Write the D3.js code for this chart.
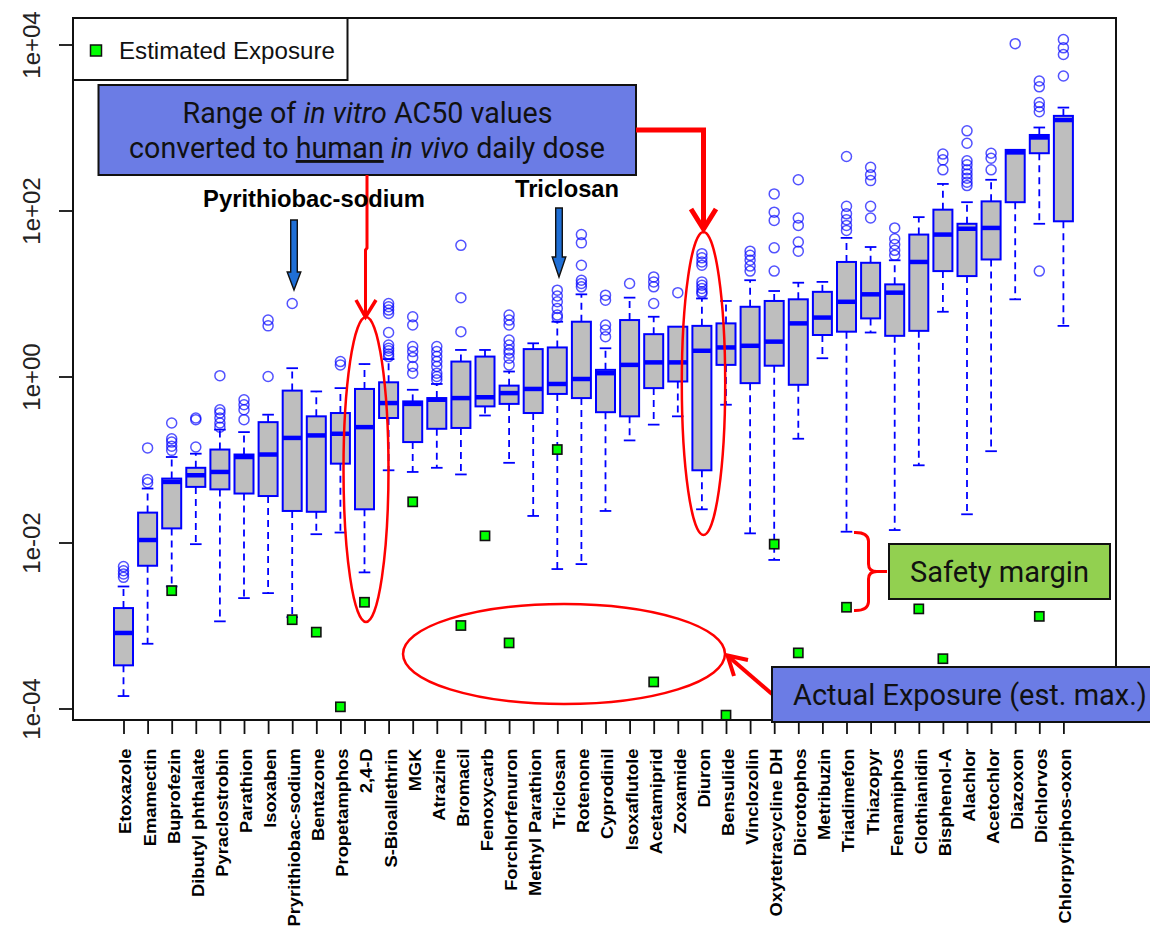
<!DOCTYPE html>
<html><head><meta charset="utf-8">
<script src="https://cdn.jsdelivr.net/npm/d3@7"></script>
<style>body{margin:0;background:#fff} svg{display:block}</style>
</head><body>
<svg id="chart" width="1150" height="933"></svg>
<script>
// ---------- DATA (log10 of human in vivo daily dose) ----------
const categories = ["Etoxazole","Emamectin","Buprofezin","Dibutyl phthalate","Pyraclostrobin","Parathion","Isoxaben","Pryrithiobac-sodium","Bentazone","Propetamphos","2,4-D","S-Bioallethrin","MGK","Atrazine","Bromacil","Fenoxycarb","Forchlorfenuron","Methyl Parathion","Triclosan","Rotenone","Cyprodinil","Isoxaflutole","Acetamiprid","Zoxamide","Diuron","Bensulide","Vinclozolin","Oxytetracycline DH","Dicrotophos","Metribuzin","Triadimefon","Thiazopyr","Fenamiphos","Clothianidin","Bisphenol-A","Alachlor","Acetochlor","Diazoxon","Dichlorvos","Chlorpyriphos-oxon"];
const whiskerLowLog = [-3.85,-3.22,-2.53,-2.02,-2.95,-2.67,-2.61,-2.90,-1.90,-1.88,-2.36,-1.13,-1.15,-1.10,-1.18,-0.47,-1.04,-1.68,-2.32,-2.26,-1.62,-0.77,-0.58,-0.48,-1.60,-0.34,-1.89,-2.21,-0.75,0.22,-1.87,0.53,-1.85,-1.07,0.78,-1.66,-0.90,0.93,1.84,0.61];
const q1Log = [-3.48,-2.28,-1.83,-1.33,-1.36,-1.41,-1.44,-1.62,-1.63,-1.05,-1.60,-0.50,-0.79,-0.63,-0.62,-0.36,-0.33,-0.44,-0.21,-0.26,-0.43,-0.48,-0.14,-0.06,-1.13,0.14,-0.08,0.13,-0.10,0.50,0.54,0.70,0.49,0.55,1.27,1.21,1.41,2.10,2.69,1.87];
const medianLog = [-3.09,-1.97,-1.27,-1.19,-1.15,-0.97,-0.94,-0.74,-0.71,-0.69,-0.61,-0.32,-0.33,-0.28,-0.26,-0.25,-0.20,-0.15,-0.09,-0.03,0.04,0.14,0.17,0.17,0.31,0.35,0.37,0.42,0.64,0.71,0.90,0.99,1.01,1.38,1.71,1.78,1.79,2.70,2.88,3.09];
const q3Log = [-2.79,-1.64,-1.23,-1.10,-0.88,-0.94,-0.55,-0.17,-0.48,-0.44,-0.15,-0.07,-0.30,-0.26,0.18,0.24,-0.11,0.33,0.35,0.66,0.08,0.68,0.51,0.60,0.61,0.64,0.84,0.91,0.93,1.02,1.38,1.37,1.11,1.71,2.01,1.84,2.11,2.73,2.91,3.14];
const whiskerHighLog = [-2.53,-1.35,-0.97,-0.93,-0.64,-0.67,-0.46,0.10,-0.18,-0.14,0.15,0.21,-0.16,-0.09,0.32,0.32,0.06,0.40,0.66,0.99,0.34,0.95,0.72,0.60,0.94,0.91,1.16,1.03,1.13,1.14,1.67,1.56,1.40,1.92,2.32,2.10,2.37,2.73,3.00,3.24];
const outliersLog = [
  [-2.29,-2.34,-2.38,-2.42],
  [-0.86,-1.24,-1.28],
  [-0.56,-0.75,-0.79,-0.84,-0.89],
  [-0.50,-0.52,-0.85],
  [0.01,-0.40,-0.44,-0.50,-0.56,-0.61],
  [-0.28,-0.34,-0.40,-0.52],
  [0.00,0.68,0.61],
  [0.88],
  [],
  [0.18,0.14],
  [],
  [0.88,0.84,0.80,0.76,0.53,0.38,0.34,0.31,0.27,0.24],
  [0.72,0.62,0.36,0.30,0.23,0.12,0.04],
  [0.36,0.30,0.24,0.18,0.12,0.04,0.00,-0.04],
  [1.58,0.95,0.54],
  [],
  [0.74,0.68,0.62,0.44,0.38,0.32,0.28,0.22,0.14],
  [],
  [1.04,0.97,0.90,0.82,0.74,0.71],
  [1.71,1.61,1.34,1.16,1.12,1.08],
  [0.98,0.92,0.62,0.56,0.48],
  [1.12],
  [1.20,1.14,1.08,0.88],
  [1.01],
  [1.48,1.43,1.38,1.34,1.14,1.10,1.06,1.02,1.00],
  [],
  [1.51,1.46,1.40,1.33,1.27],
  [2.20,1.98,1.88,1.55,1.27],
  [2.37,1.91,1.82,1.62,1.51],
  [],
  [2.65,2.05,1.96,1.89,1.82,1.76],
  [2.52,2.43,2.36,2.05,1.91],
  [1.79,1.66,1.59,1.52,1.46],
  [],
  [2.68,2.61,2.49],
  [2.96,2.81,2.60,2.55,2.49,2.44,2.39,2.34,2.30],
  [2.69,2.63,2.49],
  [4.01],
  [3.56,3.49,3.30,3.25,3.19,1.27],
  [4.06,3.96,3.88,3.62]
];
const exposureLog = [null,null,-2.58,null,null,null,null,-2.93,-3.08,-3.98,-2.72,null,-1.51,null,-3.00,-1.92,-3.21,null,-0.88,null,null,null,-3.68,null,null,-4.08,null,-2.02,-3.33,null,-2.78,null,null,-2.80,-3.40,null,null,null,-2.89,null];
const yTickValues = [1e-4,1e-2,1,1e2,1e4];

// ---------- SETUP ----------
const svg = d3.select("#chart");
const frame = {left:73, top:18, right:1116, bottom:720};
const x = d3.scalePoint().domain(categories).range([123.5, 1063.4]);
const y = d3.scaleLog().domain([1e-4, 1e4]).range([708.5, 44.5]);
const p10 = l => Math.pow(10, l);
const BLUE = "#0000ff";
const fmtR = d => { const e = Math.round(Math.log10(d)); return "1e" + (e < 0 ? "-" : "+") + String(Math.abs(e)).padStart(2, "0"); };

function fit(sel, targetW){
  const w = sel.node().getComputedTextLength();
  const fs = parseFloat(sel.attr("font-size"));
  sel.attr("font-size", (fs*targetW/w).toFixed(2));
  return sel;
}

// ---------- AXES ----------
const yAxis = svg.append("g").attr("transform", `translate(${frame.left},0)`)
  .call(d3.axisLeft(y).tickValues(yTickValues).tickFormat(fmtR).tickSize(14).tickSizeOuter(0));
yAxis.select(".domain").remove();
yAxis.selectAll(".tick line").attr("stroke", "#111").attr("stroke-width", 1.8);
yAxis.selectAll(".tick text")
  .attr("transform", "rotate(-90)").attr("x", 0).attr("y", -33).attr("dy", null)
  .attr("text-anchor", "middle").attr("font-family", "Liberation Sans, Arial, sans-serif")
  .attr("font-size", 24).attr("fill", "#222");

const xAxis = svg.append("g").attr("transform", `translate(0,${frame.bottom})`)
  .call(d3.axisBottom(x).tickSize(14).tickSizeOuter(0));
xAxis.select(".domain").remove();
xAxis.selectAll(".tick line").attr("stroke", "#111").attr("stroke-width", 1.8);
xAxis.selectAll(".tick text")
  .attr("transform", "translate(1.5,28.5) rotate(-90) scale(1.11,1)").attr("x", 0).attr("y", 0).attr("dy", "0.36em")
  .attr("text-anchor", "end").attr("font-family", "Liberation Sans, Arial, sans-serif")
  .attr("font-weight", "bold").attr("font-size", 16.5).attr("fill", "#000");

// ---------- BOXES ----------
const boxes = categories.map((c, i) => ({c, i, lo:p10(whiskerLowLog[i]), q1:p10(q1Log[i]), med:p10(medianLog[i]), q3:p10(q3Log[i]), hi:p10(whiskerHighLog[i]), out:outliersLog[i].map(p10), exp: exposureLog[i] === null ? null : p10(exposureLog[i])}));
const hw = 9.5, cw = 5.8;
const g = svg.append("g");
boxes.forEach(b => {
  const cx = x(b.c);
  const gb = g.append("g");
  if (y(b.lo) > y(b.q1) + 1) gb.append("line").attr("x1", cx).attr("x2", cx).attr("y1", y(b.q1)).attr("y2", y(b.lo))
    .attr("stroke", BLUE).attr("stroke-width", 1.8).attr("stroke-dasharray", "7,5");
  if (y(b.hi) < y(b.q3) - 1) gb.append("line").attr("x1", cx).attr("x2", cx).attr("y1", y(b.q3)).attr("y2", y(b.hi))
    .attr("stroke", BLUE).attr("stroke-width", 1.8).attr("stroke-dasharray", "7,5");
  [b.lo, b.hi].forEach(v => {
    if (Math.abs(y(v) - y(v === b.lo ? b.q1 : b.q3)) > 1)
      gb.append("line").attr("x1", cx - cw).attr("x2", cx + cw).attr("y1", y(v)).attr("y2", y(v))
        .attr("stroke", BLUE).attr("stroke-width", 1.8);
  });
  gb.append("rect").attr("x", cx - hw).attr("width", hw*2).attr("y", y(b.q3)).attr("height", y(b.q1) - y(b.q3))
    .attr("fill", "#bebebe").attr("stroke", BLUE).attr("stroke-width", 2);
  gb.append("line").attr("x1", cx - hw).attr("x2", cx + hw).attr("y1", y(b.med)).attr("y2", y(b.med))
    .attr("stroke", BLUE).attr("stroke-width", 4.5);
  gb.selectAll("circle").data(b.out).join("circle").attr("cx", cx).attr("cy", d => y(d)).attr("r", 5)
    .attr("fill", "none").attr("stroke", BLUE).attr("stroke-opacity", 0.68).attr("stroke-width", 1.5);
});
g.selectAll("rect.exp").data(boxes.filter(b => b.exp !== null)).join("rect").attr("class", "exp")
  .attr("x", d => x(d.c) - 4.6).attr("y", d => y(d.exp) - 4.6).attr("width", 9.2).attr("height", 9.2)
  .attr("fill", "#00ff00").attr("stroke", "#111").attr("stroke-width", 1.6);

// frame
svg.append("rect").attr("x", frame.left).attr("y", frame.top).attr("width", frame.right - frame.left)
  .attr("height", frame.bottom - frame.top).attr("fill", "none").attr("stroke", "#111").attr("stroke-width", 2);

// ---------- LEGEND ----------
svg.append("rect").attr("x", 73).attr("y", 18).attr("width", 274.5).attr("height", 62)
  .attr("fill", "#fff").attr("stroke", "#111").attr("stroke-width", 2);
svg.append("rect").attr("x", 90.5).attr("y", 45).attr("width", 11).attr("height", 11)
  .attr("fill", "#00ff00").attr("stroke", "#111").attr("stroke-width", 1.5);
fit(svg.append("text").attr("x", 119).attr("y", 58.5).attr("font-family", "Liberation Sans, Arial, sans-serif")
  .attr("font-size", 24).attr("fill", "#111").text("Estimated Exposure"), 216);

// ---------- ANNOTATIONS ----------
const RED = "#ff0000";
const ANN_FONT = "Roboto, 'Noto Sans', sans-serif";
const BOXBLUE = "#6b7ce5";

[[366, 469.5, 22.5, 152.5], [703.5, 383.5, 21.7, 151.5], [564, 654, 161, 50]].forEach(e => {
  svg.append("ellipse").attr("cx", e[0]).attr("cy", e[1]).attr("rx", e[2]).attr("ry", e[3])
    .attr("fill", "none").attr("stroke", RED).attr("stroke-width", 2.5);
});

svg.append("rect").attr("x", 98.5).attr("y", 85).attr("width", 537.5).attr("height", 90)
  .attr("fill", BOXBLUE).attr("stroke", "#111").attr("stroke-width", 2);
const t1 = svg.append("text").attr("x", 367.5).attr("y", 123).attr("text-anchor", "middle")
  .attr("font-family", ANN_FONT).attr("font-size", 26).attr("fill", "#111");
t1.append("tspan").text("Range of ");
t1.append("tspan").attr("font-style", "italic").text("in vitro");
t1.append("tspan").text(" AC50 values");
fit(t1, 370);
const t2 = svg.append("text").attr("x", 367).attr("y", 158).attr("text-anchor", "middle")
  .attr("font-family", ANN_FONT).attr("font-size", 26).attr("fill", "#111");
t2.append("tspan").text("converted to ");
t2.append("tspan").attr("text-decoration", "underline").text("human");
t2.append("tspan").text(" ");
t2.append("tspan").attr("font-style", "italic").text("in vivo");
t2.append("tspan").text(" daily dose");
fit(t2, 476);

svg.append("path").attr("d", "M367,175 L367,248 L365.5,250 L365.5,315").attr("fill", "none")
  .attr("stroke", RED).attr("stroke-width", 3);
svg.append("path").attr("d", "M356,300 L365.5,317 L376,300").attr("fill", "none")
  .attr("stroke", RED).attr("stroke-width", 3.5).attr("stroke-linejoin", "miter");
svg.append("path").attr("d", "M636,130 L703.5,130 L703.5,226").attr("fill", "none")
  .attr("stroke", RED).attr("stroke-width", 5);
svg.append("path").attr("d", "M691,209 L703.5,229 L716,209").attr("fill", "none")
  .attr("stroke", RED).attr("stroke-width", 5).attr("stroke-linejoin", "miter");

function blueArrow(cx, y0, yh, yt){
  svg.append("path").attr("d", `M${cx-3.3},${y0} L${cx+3.3},${y0} L${cx+3.3},${yh} L${cx+6.8},${yh} L${cx},${yt} L${cx-6.8},${yh} L${cx-3.3},${yh} Z`)
    .attr("fill", "#1f6fd6").attr("stroke", "#111").attr("stroke-width", 1.4);
}
fit(svg.append("text").attr("x", 314).attr("y", 207).attr("text-anchor", "middle")
  .attr("font-family", "Liberation Sans, Arial, sans-serif").attr("font-weight", "bold")
  .attr("font-size", 22).attr("fill", "#000").text("Pyrithiobac-sodium"), 222);
blueArrow(294, 220, 272, 290);
fit(svg.append("text").attr("x", 567).attr("y", 196.5).attr("text-anchor", "middle")
  .attr("font-family", "Liberation Sans, Arial, sans-serif").attr("font-weight", "bold")
  .attr("font-size", 22).attr("fill", "#000").text("Triclosan"), 104);
blueArrow(559, 208, 257, 277);

svg.append("path").attr("d", "M854,532.5 Q868,532 868.5,541 L868.5,564 Q868.5,571.5 877,571.5 L887,571.5 M877,571.5 Q868.5,571.5 868.5,579 L868.5,602 Q868,611 854,610.5")
  .attr("fill", "none").attr("stroke", RED).attr("stroke-width", 3);
svg.append("rect").attr("x", 889).attr("y", 544).attr("width", 221).attr("height", 55)
  .attr("fill", "#92d050").attr("stroke", "#111").attr("stroke-width", 2);
fit(svg.append("text").attr("x", 999.5).attr("y", 581.5).attr("text-anchor", "middle")
  .attr("font-family", ANN_FONT).attr("font-size", 26).attr("fill", "#111").text("Safety margin"), 179);

svg.append("path").attr("d", "M772,694 L729,657").attr("fill", "none").attr("stroke", RED).attr("stroke-width", 4);
svg.append("path").attr("d", "M748,660 L727.5,655.5 L734,676").attr("fill", "none")
  .attr("stroke", RED).attr("stroke-width", 4).attr("stroke-linejoin", "miter");
svg.append("rect").attr("x", 772).attr("y", 667).attr("width", 400).attr("height", 55)
  .attr("fill", BOXBLUE).attr("stroke", "#111").attr("stroke-width", 2);
fit(svg.append("text").attr("x", 793).attr("y", 705).attr("font-family", ANN_FONT)
  .attr("font-size", 26).attr("fill", "#111").text("Actual Exposure (est. max.)"), 354);
</script>
</body></html>
